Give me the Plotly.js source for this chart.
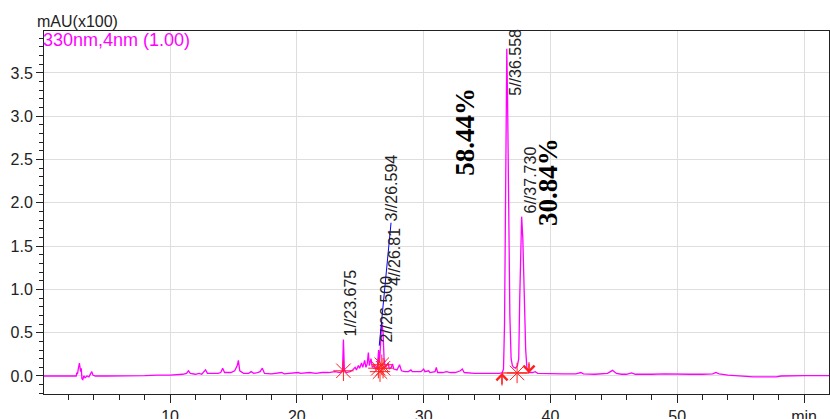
<!DOCTYPE html>
<html>
<head>
<meta charset="utf-8">
<script src="https://cdn.plot.ly/plotly-3.0.1.min.js"></script>
<style>
html,body{margin:0;padding:0;background:#fff;}
#chart{width:830px;height:419px;}
</style>
</head>
<body>
<div id="chart"></div>
<script>
// Chromatogram (retention time in min, absorbance in mAU x100)
const times = [0.06,1.0,2.0,2.6,2.65,2.7,2.75,2.85,2.95,3.0,3.05,3.12,3.2,3.3,3.45,3.6,3.75,3.83,3.92,4.1,5,6,7,8,9,10,11,11.3,11.45,11.6,12.0,12.3,12.5,12.7,12.8,12.95,13.5,13.8,14.0,14.15,14.3,14.8,15.1,15.3,15.39,15.5,15.8,16.2,16.4,16.6,16.9,17.1,17.28,17.45,18,18.6,18.8,19,19.6,20.1,20.3,21,21.5,22,22.5,23,23.4,23.6,23.675,23.75,23.9,24.2,24.4,24.6,24.7,24.85,24.95,25.1,25.2,25.35,25.45,25.55,25.64,25.72,25.85,25.95,26.1,26.2,26.35,26.45,26.52,26.6,26.7,26.8,26.88,26.97,27.1,27.2,27.3,27.45,27.55,27.65,27.9,28.1,28.25,28.5,28.8,29.0,29.1,29.5,29.8,30.0,30.1,30.4,30.5,30.9,31.0,31.1,31.5,31.8,32.1,32.5,32.9,33.05,33.2,34,35,36.0,36.2,36.3,36.38,36.45,36.51,36.56,36.62,36.7,36.8,36.9,37.0,37.1,37.25,37.4,37.5,37.58,37.65,37.73,37.82,37.95,38.05,38.15,38.3,38.6,38.8,39.0,40,41,42,42.4,42.6,43.5,44.5,44.9,45.2,45.6,46.0,46.4,46.7,47.5,48,49,50,51,52,52.8,53.05,53.3,54,55,56,57,57.8,58.2,59,60,61,62];
const absorbance = [0.0,0.0,0.0,0.0,0.04,0.02,0.07,0.15,0.05,0.09,-0.03,-0.04,0.0,-0.02,0.0,-0.01,0.03,0.05,0.01,0.0,0.0,0.0,0.0,0.005,0.01,0.01,0.02,0.03,0.06,0.03,0.02,0.03,0.02,0.05,0.07,0.03,0.025,0.03,0.04,0.09,0.04,0.04,0.06,0.12,0.18,0.06,0.03,0.03,0.05,0.03,0.04,0.05,0.09,0.03,0.025,0.03,0.04,0.025,0.03,0.04,0.03,0.04,0.03,0.04,0.04,0.05,0.04,0.06,0.42,0.07,0.04,0.05,0.07,0.1,0.07,0.12,0.09,0.15,0.1,0.18,0.1,0.14,0.27,0.12,0.2,0.1,0.12,0.08,0.1,0.3,0.15,0.45,0.62,0.5,0.2,0.1,0.12,0.15,0.08,0.1,0.14,0.08,0.07,0.13,0.06,0.05,0.05,0.07,0.05,0.05,0.05,0.08,0.05,0.06,0.04,0.05,0.1,0.04,0.04,0.05,0.04,0.04,0.06,0.08,0.04,0.03,0.03,0.03,0.04,0.08,0.6,1.9,3.2,3.78,3.2,1.9,0.7,0.2,0.12,0.1,0.09,0.12,0.2,0.9,1.6,1.84,1.6,0.9,0.3,0.08,0.04,0.04,0.05,0.03,0.025,0.025,0.025,0.04,0.025,0.02,0.03,0.065,0.03,0.02,0.02,0.035,0.02,0.025,0.02,0.025,0.02,0.02,0.02,0.025,0.04,0.025,0.01,0.0,-0.01,-0.01,-0.01,0.0,0.005,0.005,0.005,0.005];

// Blue integration line
const blueTimes = [26.5, 27.43];
const blueValues = [0.35, 1.77];

// Peak start/end markers
const starTimes = [23.675, 26.43, 26.56, 26.7, 26.8, 37.37];
const starValues = [0.06, 0.09, 0.05, 0.13, 0.09, 0.035];
const baseTimes = [36.18, 38.31];
const baseValues = [0.035, 0.035];
const arrowTailValues = [-0.11, 0.16];

// Peak labels
const peakLabels = ['1//23.675','2//26.500','3//26.594','4//26.81','5//36.558','6//37.730'];
const peakLabelX = [24.27, 27.11, 27.45, 27.74, 37.29, 38.39];
const peakLabelY = [0.45, 0.38, 1.77, 1.03, 3.22, 1.86];
const percentLabels = ['58.44%', '30.84%'];
const percentX = [33.26, 39.81];
const percentY = [2.30, 1.72];

const xTickVals = [10, 20, 30, 40, 50, 60];
const xTickText = ['10', '20', '30', '40', '50', 'min'];

const traces = [
  {x: times, y: absorbance, type: 'scatter', mode: 'lines',
   line: {color: '#ff00ff', width: 1.3}, hoverinfo: 'skip'},
  {x: blueTimes, y: blueValues, type: 'scatter', mode: 'lines',
   line: {color: '#0000ff', width: 1}, hoverinfo: 'skip'},
  {x: baseTimes, y: baseValues, type: 'scatter', mode: 'lines',
   line: {color: '#ff2020', width: 1.3}, hoverinfo: 'skip'},
  {x: [baseTimes[0], baseTimes[0], null, baseTimes[1], baseTimes[1]],
   y: [arrowTailValues[0], baseValues[0], null, arrowTailValues[1], baseValues[1]],
   type: 'scatter', mode: 'lines', connectgaps: false,
   line: {color: '#ff2020', width: 1.2}, hoverinfo: 'skip'},
  {x: starTimes, y: starValues, type: 'scatter', mode: 'markers',
   marker: {symbol: 'asterisk-open', size: 17, color: '#ff2020', line: {color: '#ff2020', width: 1}}, hoverinfo: 'skip'}
];

const annotations = [];
peakLabels.forEach((t, i) => {
  annotations.push({text: t, x: peakLabelX[i], y: peakLabelY[i], xref: 'x', yref: 'y',
    showarrow: false, textangle: -90, xanchor: 'center', yanchor: 'bottom',
    borderpad: 0, font: {family: 'Liberation Sans, Arial, sans-serif', size: 16, color: '#222'}});
});
percentLabels.forEach((t, i) => {
  annotations.push({text: '<b>' + t + '</b>', x: percentX[i], y: percentY[i], xref: 'x', yref: 'y',
    showarrow: false, textangle: -90, xanchor: 'center', yanchor: 'bottom',
    borderpad: 0, font: {family: 'Liberation Serif, Times New Roman, serif', size: 27, color: '#000'}});
});
// arrow heads at baseline start (up) and end (down)
annotations.push({text: '', x: baseTimes[0], y: baseValues[0], ax: baseTimes[0], ay: arrowTailValues[0],
  xref: 'x', yref: 'y', axref: 'x', ayref: 'y', showarrow: true, arrowhead: 4, arrowsize: 1.8,
  arrowwidth: 1.2, arrowcolor: '#ff2020'});
annotations.push({text: '', x: baseTimes[1], y: baseValues[1], ax: baseTimes[1], ay: arrowTailValues[1],
  xref: 'x', yref: 'y', axref: 'x', ayref: 'y', showarrow: true, arrowhead: 4, arrowsize: 1.8,
  arrowwidth: 1.2, arrowcolor: '#ff2020'});
annotations.push({text: 'mAU(x100)', x: -0.0102, y: 1.0248, xref: 'paper', yref: 'paper',
  xanchor: 'left', yanchor: 'middle', showarrow: false, borderpad: 0,
  font: {family: 'Liberation Sans, Arial, sans-serif', size: 16, color: '#222'}});
annotations.push({text: '330nm,4nm (1.00)', x: -0.002, y: 0.975, xref: 'paper', yref: 'paper',
  xanchor: 'left', yanchor: 'middle', showarrow: false, borderpad: 0,
  font: {family: 'Liberation Sans, Arial, sans-serif', size: 18, color: '#ff00ff'}});

const layout = {
  width: 830, height: 419,
  margin: {l: 44, r: 1, t: 31, b: 25, pad: 0},
  paper_bgcolor: '#fff', plot_bgcolor: '#fff',
  showlegend: false,
  font: {family: 'Liberation Sans, Arial, sans-serif', size: 16, color: '#222'},
  xaxis: {
    range: [0.06, 61.97], tickmode: 'array', tickvals: xTickVals, ticktext: xTickText,
    ticks: 'outside', ticklen: 8, tickwidth: 1, tickcolor: '#222',
    showline: true, linecolor: '#222', linewidth: 1, mirror: true,
    showgrid: true, gridcolor: '#dedede', gridwidth: 1, zeroline: false,
    minor: {tickmode: 'linear', tick0: 0, dtick: 2, ticks: 'outside', ticklen: 5, tickcolor: '#222', tickwidth: 1, showgrid: false},
    fixedrange: true
  },
  yaxis: {
    range: [-0.208, 3.984], tickmode: 'linear', tick0: 0, dtick: 0.5, tickformat: '.1f',
    ticks: 'outside', ticklen: 7, tickwidth: 1, tickcolor: '#222',
    showline: true, linecolor: '#222', linewidth: 1, mirror: true,
    showgrid: true, gridcolor: '#dedede', gridwidth: 1, zeroline: false,
    minor: {tickmode: 'linear', tick0: 0, dtick: 0.1, ticks: 'outside', ticklen: 4, tickcolor: '#222', tickwidth: 1, showgrid: false},
    fixedrange: true
  },
  annotations: annotations
};

Plotly.newPlot('chart', traces, layout, {displayModeBar: false, staticPlot: true});
</script>
</body>
</html>
